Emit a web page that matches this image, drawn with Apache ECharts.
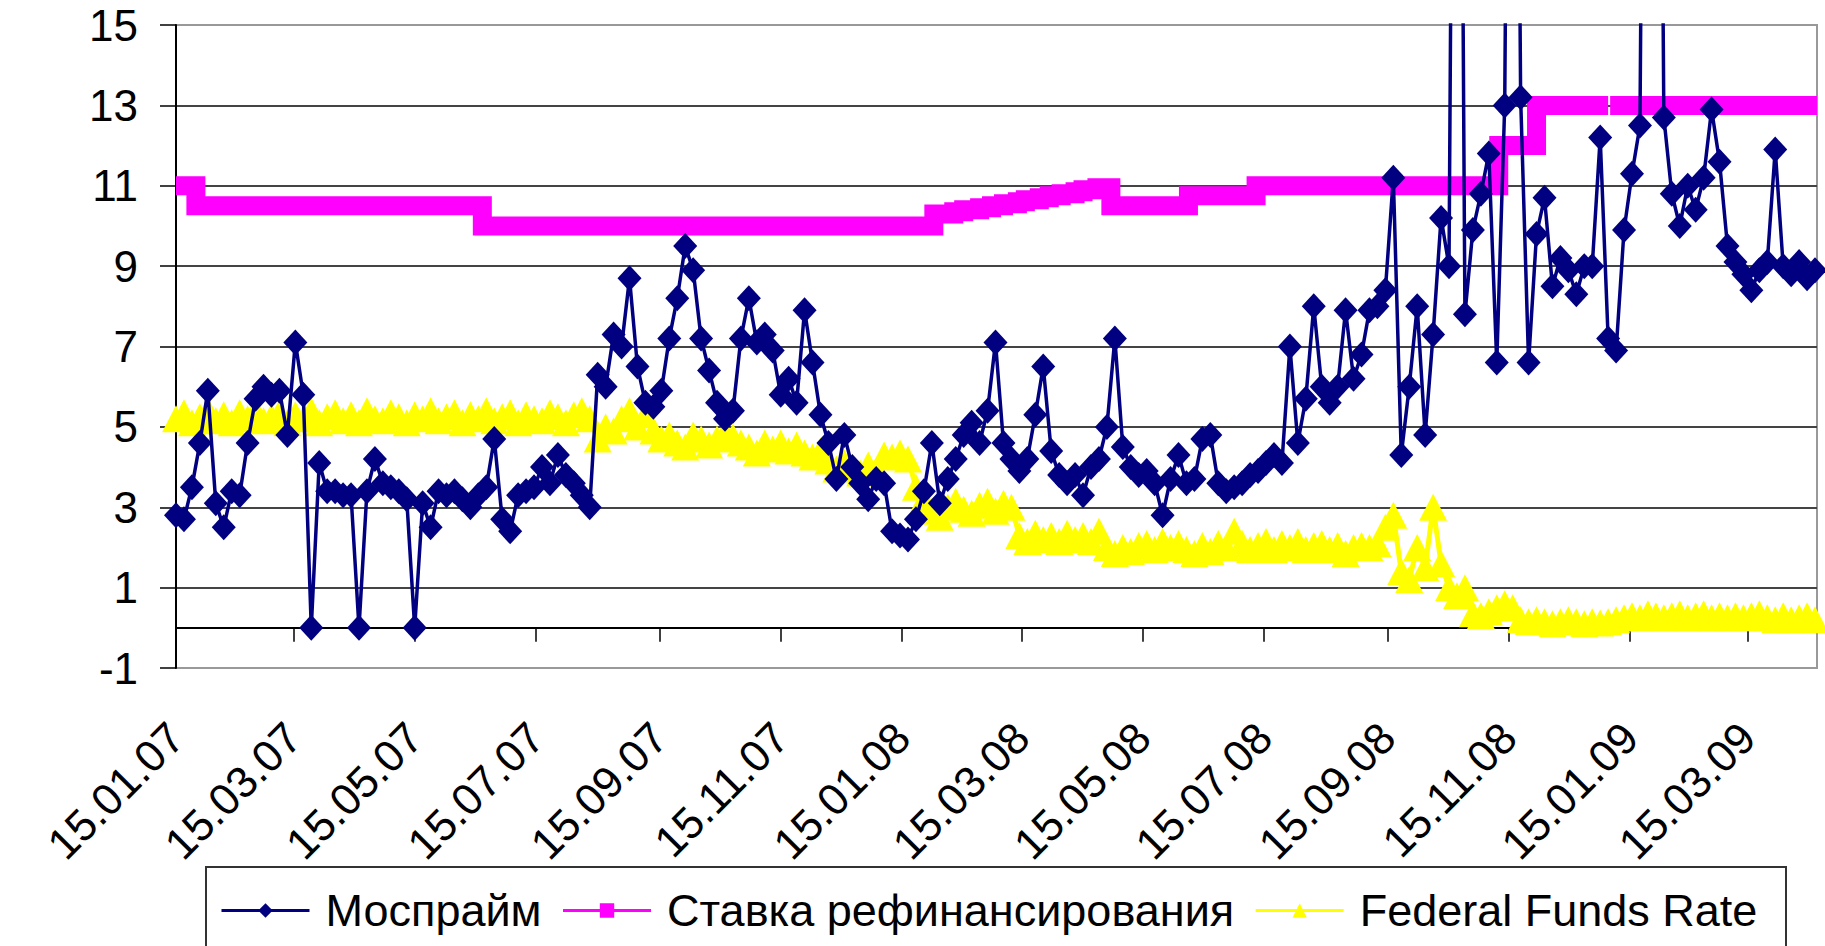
<!DOCTYPE html>
<html>
<head>
<meta charset="utf-8">
<script src="https://cdn.jsdelivr.net/npm/echarts@6/dist/echarts.min.js"></script>
<style>
html,body{margin:0;padding:0;background:#fff;}
#chart{width:1825px;height:946px;}
</style>
</head>
<body>
<div id="chart"></div>
<script>
// ---------------- DATA ----------------
// x positions are calendar days counted from 15.01.2007
const xStartLabel = '15.01.07';
const xEndDay = 825;
const xTickLabels = ['15.01.07','15.03.07','15.05.07','15.07.07','15.09.07','15.11.07',
  '15.01.08','15.03.08','15.05.08','15.07.08','15.09.08','15.11.08','15.01.09','15.03.09'];

// Mosprime and Fed Funds read every 4 calendar days from 15.01.07
const sampleStepDays = 4;
const mosprime = [
  2.8, 2.7, 3.5, 4.6, 5.9, 3.1, 2.5, 3.4, 3.3, 4.6,
  5.7, 6.0, 5.8, 5.9, 4.8, 7.1, 5.8, 0.0, 4.1, 3.4,
  3.4, 3.3, 3.3, 0.0, 3.4, 4.2, 3.6, 3.5, 3.4, 3.2,
  0.0, 3.1, 2.5, 3.4, 3.3, 3.4, 3.2, 3.0, 3.3, 3.5,
  4.7, 2.7, 2.4, 3.3, 3.4, 3.5, 4.0, 3.6, 4.3, 3.8,
  3.6, 3.3, 3.0, 6.3, 6.0, 7.3, 7.0, 8.7, 6.5, 5.6,
  5.5, 5.9, 7.2, 8.2, 9.5, 8.9, 7.2, 6.4, 5.6, 5.2,
  5.4, 7.2, 8.2, 7.1, 7.3, 6.9, 5.8, 6.2, 5.6, 7.9,
  6.6, 5.3, 4.6, 3.7, 4.8, 4.0, 3.6, 3.2, 3.7, 3.6,
  2.4, 2.3, 2.2, 2.7, 3.4, 4.6, 3.1, 3.7, 4.2, 4.8,
  5.1, 4.6, 5.4, 7.1, 4.6, 4.2, 3.9, 4.2, 5.3, 6.5,
  4.4, 3.8, 3.6, 3.8, 3.3, 4.0, 4.2, 5.0, 7.2, 4.5,
  4.0, 3.8, 3.9, 3.6, 2.8, 3.7, 4.3, 3.6, 3.7, 4.7,
  4.8, 3.6, 3.4, 3.5, 3.6, 3.8, 3.9, 4.1, 4.3, 4.1,
  7.0, 4.6, 5.7, 8.0, 6.0, 5.6, 6.0, 7.9, 6.2, 6.8,
  7.9, 8.0, 8.4, 11.2, 4.3, 6.0, 8.0, 4.8, 7.3, 10.2,
  9.0, 40, 7.8, 9.9, 10.8, 11.8, 6.6, 13.0, 40, 13.2,
  6.6, 9.8, 10.7, 8.5, 9.2, 8.9, 8.3, 9.0, 9.0, 12.2,
  7.2, 6.9, 9.9, 11.3, 12.5, 40, 40, 12.7, 10.8, 10.0,
  11.0, 10.4, 11.2, 12.9, 11.6, 9.5, 9.1, 8.8, 8.4, 8.9,
  9.1, 11.9, 9.0, 8.8, 9.1, 8.7, 8.9
];
const fedFunds = [
  5.2, 5.35, 5.1, 5.25, 5.4, 5.15, 5.3, 5.1, 5.35, 5.2,
  5.4, 5.15, 5.25, 5.35, 5.1, 5.3, 5.2, 5.4, 5.1, 5.25,
  5.35, 5.15, 5.3, 5.1, 5.4, 5.2, 5.15, 5.35, 5.25, 5.1,
  5.3, 5.2, 5.4, 5.15, 5.25, 5.35, 5.1, 5.3, 5.2, 5.4,
  5.15, 5.25, 5.35, 5.1, 5.3, 5.2, 5.15, 5.35, 5.25, 5.1,
  5.3, 5.4, 5.2, 4.7, 5.0, 4.9, 5.2, 5.4, 5.0, 5.3,
  4.9, 4.7, 4.8, 4.6, 4.5, 4.8, 4.7, 4.55, 4.7, 4.85,
  4.75, 4.6, 4.5, 4.35, 4.6, 4.45, 4.6, 4.4, 4.55, 4.35,
  4.25, 4.4, 4.15, 3.95, 4.1, 4.0, 3.85, 4.05, 3.9, 4.3,
  4.25, 4.35, 4.2, 3.5, 3.2, 2.9, 2.75, 3.0, 3.15, 2.95,
  2.85, 3.05, 3.15, 2.9, 3.1, 3.0, 2.3, 2.15, 2.35, 2.2,
  2.3, 2.15, 2.35, 2.2, 2.3, 2.15, 2.4, 2.0, 1.85, 2.0,
  1.9, 2.05, 2.1, 1.95, 2.15, 2.0, 2.1, 1.95, 1.85, 2.05,
  1.9, 2.1, 2.0, 2.4, 2.1, 1.95, 2.05, 2.15, 1.95, 2.1,
  2.0, 2.15, 1.95, 2.05, 2.1, 1.95, 2.05, 1.85, 2.0, 2.05,
  2.0, 2.1, 2.5, 2.8, 1.4, 1.2, 2.0, 1.5, 3.0, 1.6,
  1.0, 0.8, 1.0, 0.35, 0.3, 0.4, 0.5, 0.6, 0.5, 0.2,
  0.15, 0.2, 0.15, 0.1, 0.15, 0.2, 0.15, 0.1, 0.15, 0.12,
  0.15, 0.2, 0.25, 0.3, 0.25, 0.35, 0.3, 0.25, 0.3, 0.35,
  0.25, 0.3, 0.35, 0.25, 0.3, 0.25, 0.3, 0.25, 0.3, 0.35,
  0.25, 0.2, 0.3, 0.2, 0.25, 0.3, 0.2
];

// Refinancing rate: day each level starts, and the level
const refiDays   = [0, 10, 154, 381, 391, 396, 404, 410, 416, 423, 427, 434, 439, 445, 452, 456, 463, 470, 509, 543, 665, 684, 719, 720, 721, 825];
const refiValues = [11, 10.5, 10, 10.3, 10.35, 10.4, 10.45, 10.5, 10.55, 10.6, 10.65, 10.7, 10.75, 10.8, 10.85, 10.9, 10.95, 10.5, 10.75, 11, 12, 13, 13, null, 13, 13];

const seriesNames = ['Моспрайм', 'Ставка рефинансирования', 'Federal Funds Rate'];
const yMin = -1, yMax = 15, yStep = 2;

// ---------------- BUILD ----------------
function parseLabel(s) {
  const p = s.split('.').map(Number);
  return Date.UTC(2000 + p[2], p[1] - 1, p[0]);
}
const t0 = parseLabel(xStartLabel);
const tickDays = xTickLabels.map(s => Math.round((parseLabel(s) - t0) / 86400000));
const labelByDay = {};
tickDays.forEach((d, i) => { labelByDay[d] = xTickLabels[i]; });

const mosData = mosprime.map((v, i) => [i * sampleStepDays, v]);
const ffData = fedFunds.map((v, i) => [i * sampleStepDays, v]);
const refiData = refiDays.map((d, i) => [d, refiValues[i]]);

const FONT = '"Liberation Sans", Arial, sans-serif';

const chart = echarts.init(document.getElementById('chart'), null, { renderer: 'svg' });
chart.setOption({
  animation: false,
  backgroundColor: '#ffffff',
  grid: {
    left: 176, right: 8, top: 25, bottom: 278,
    show: true, borderColor: '#999', borderWidth: 2,
    containLabel: false, outerBoundsMode: 'none'
  },
  xAxis: {
    type: 'value', min: 0, max: xEndDay,
    axisLine: { show: true, onZero: true, lineStyle: { color: '#000', width: 2 } },
    axisTick: { show: true, customValues: tickDays, length: 14, lineStyle: { color: '#000', width: 1.5 } },
    axisLabel: {
      customValues: tickDays,
      formatter: v => labelByDay[v] || '',
      rotate: 45, fontSize: 44, fontFamily: FONT, color: '#000', margin: 62
    },
    splitLine: { show: false }
  },
  yAxis: {
    type: 'value', min: yMin, max: yMax, interval: yStep,
    axisLine: { show: true, onZero: false, lineStyle: { color: '#000', width: 2 } },
    axisTick: { show: true, length: 16, lineStyle: { color: '#000', width: 1.5 } },
    axisLabel: { fontSize: 44, fontFamily: FONT, color: '#000', margin: 38 },
    splitLine: { show: true, showMinLine: false, showMaxLine: false, lineStyle: { color: '#444', width: 2 } }
  },
  legend: {
    data: seriesNames,
    left: 220, top: 888, padding: 0,
    itemWidth: 88, itemHeight: 18, itemGap: 20,
    selectedMode: false,
    lineStyle: { width: 3 },
    textStyle: { fontSize: 45, fontFamily: FONT, color: '#000', padding: [0, 0, 0, 11] }
  },
  graphic: [{
    type: 'rect', silent: true, z: -10,
    shape: { x: 206, y: 867, width: 1580, height: 100 },
    style: { fill: 'none', stroke: '#333', lineWidth: 2 }
  }],
  series: [
    {
      name: seriesNames[1], type: 'line', step: 'end', data: refiData,
      symbol: 'square', symbolSize: 16, showSymbol: false, connectNulls: false,
      itemStyle: { color: '#FF00FF' },
      lineStyle: { color: '#FF00FF', width: 19, cap: 'butt', join: 'miter' },
      silent: true, z: 2
    },
    {
      name: seriesNames[2], type: 'line', data: ffData,
      symbol: 'triangle', symbolSize: [28, 27],
      itemStyle: { color: '#FFFF00' },
      lineStyle: { color: '#FFFF00', width: 5 },
      silent: true, z: 3
    },
    {
      name: seriesNames[0], type: 'line', data: mosData,
      symbol: 'diamond', symbolSize: [24, 26],
      itemStyle: { color: '#000080' },
      lineStyle: { color: '#000080', width: 3.5 },
      silent: true, z: 4
    }
  ]
});
</script>
</body>
</html>
